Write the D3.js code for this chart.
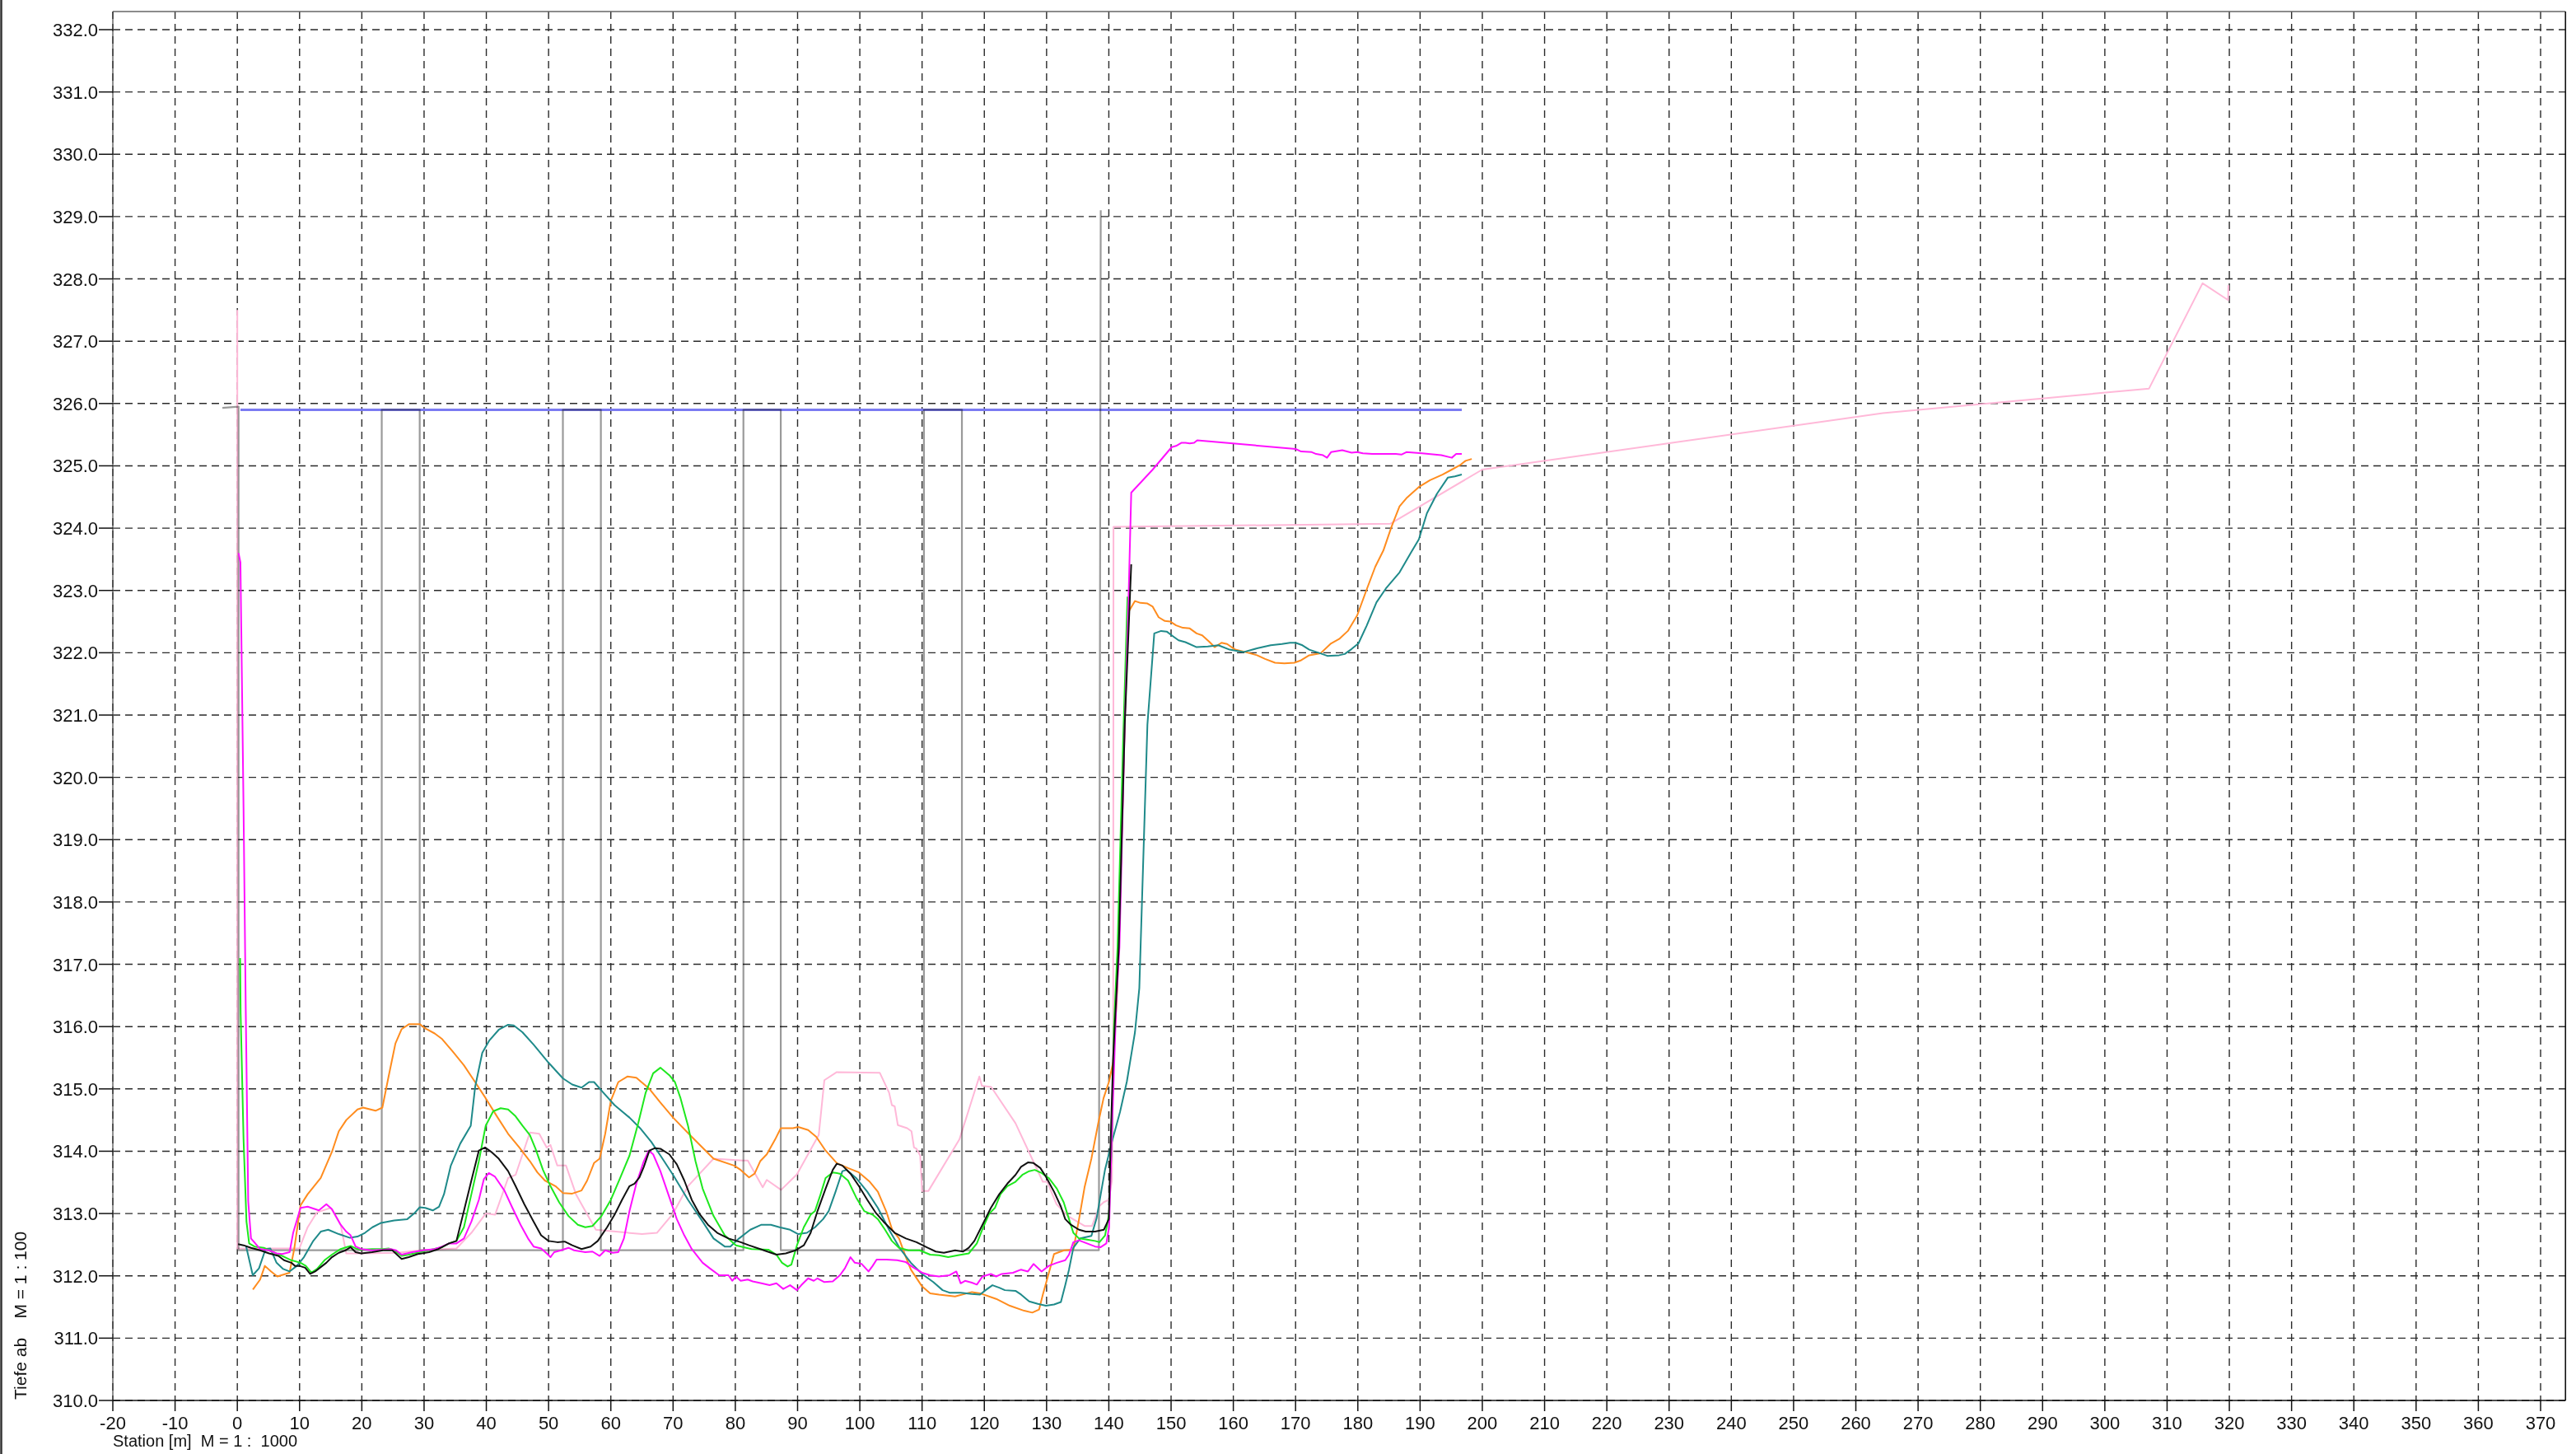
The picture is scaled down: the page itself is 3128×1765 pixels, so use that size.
<!DOCTYPE html>
<html>
<head>
<meta charset="utf-8">
<script src="https://cdn.jsdelivr.net/npm/d3@7"></script>
<style>
  html, body { margin: 0; padding: 0; background: #fff; }
  svg { display: block; font-family: "Liberation Sans", Arial, Helvetica, sans-serif; }
  text { white-space: pre; }
</style>
</head>
<body>
<svg id="chart" width="3128" height="1765"></svg>
<script>
// ---------- data ----------
const xTicks = d3.range(-20, 371, 10);
const yTicks = d3.range(310, 332.5, 1);
const xLabel = "Station [m]  M = 1 :  1000";
const yLabel = "Tiefe ab    M = 1 : 100";

const structure = [[-2.4,325.93],[0.2,325.95],[0.2,312.41],[23.2,312.41],[23.2,325.9],[29.3,325.9],[29.3,312.41],[52.3,312.41],[52.3,325.9],[58.4,325.9],[58.4,312.41],[81.3,312.41],[81.3,325.9],[87.3,325.9],[87.3,312.41],[110.3,312.41],[110.3,325.9],[116.4,325.9],[116.4,312.41],[138.4,312.41],[138.7,329.1]];

const waterLevel = [[0.5,325.9],[196.7,325.9]];

const pink = [[0,327.5],[0,312.44],[9.97,312.44],[11.3,312.78],[12.8,313.02],[15.0,313.09],[16.6,312.82],[17.5,312.36],[19.9,312.36],[25.8,312.37],[29.3,312.41],[35.2,312.44],[37.6,312.69],[39.9,313.0],[41.4,312.98],[43.5,313.57],[44.7,313.62],[47.0,314.30],[48.5,314.28],[49.7,314.06],[50.3,314.10],[51.4,313.77],[52.8,313.77],[54.4,313.31],[55.9,313.04],[57.6,312.74],[65.0,312.67],[67.4,312.69],[70.0,313.0],[72.4,313.44],[76.5,313.88],[81.2,313.85],[82.0,313.85],[84.4,313.42],[85.05,313.54],[87.35,313.38],[89.9,313.63],[93.4,314.26],[94.3,315.14],[96.3,315.27],[103.2,315.26],[104.7,314.94],[105.15,314.74],[105.6,314.72],[106.1,314.42],[107.6,314.37],[108.3,314.32],[108.7,314.06],[109.1,314.04],[109.7,313.93],[110.0,313.36],[111.0,313.36],[116.0,314.19],[119.2,315.20],[119.6,315.05],[121.1,315.03],[125.0,314.45],[129.4,313.51],[130.1,313.51],[131.6,313.15],[133.4,312.96],[136.1,312.80],[137.3,312.80],[138.5,313.12],[139.15,313.18],[140.0,313.22],[140.5,313.53],[140.7,315.43],[140.75,324.02],[185.2,324.07],[200.0,324.94],[264.7,325.85],[307.1,326.24],[315.7,327.93],[319.8,327.66],[319.85,327.9]];

const orange = [[2.5,311.78],[3.66,311.94],[4.42,312.16],[5.43,312.07],[6.43,311.99],[8.38,312.05],[9.14,312.43],[10.15,313.13],[11.3,313.31],[13.4,313.57],[15.2,313.99],[16.3,314.32],[17.5,314.50],[19.3,314.67],[20.2,314.70],[22.2,314.65],[23.3,314.70],[24.3,315.20],[25.4,315.73],[26.4,315.96],[27.6,316.04],[29.3,316.04],[30.2,315.97],[31.7,315.89],[32.9,315.80],[34.6,315.60],[36.4,315.38],[38.2,315.11],[39.9,314.85],[41.7,314.56],[43.5,314.28],[45.3,314.06],[47.0,313.84],[48.2,313.66],[49.4,313.53],[51.1,313.44],[52.3,313.33],[53.8,313.32],[55.3,313.37],[56.2,313.53],[57.3,313.81],[58.2,313.88],[59.1,314.28],[60.0,314.81],[61.2,315.11],[62.7,315.20],[64.1,315.18],[66.2,315.00],[67.96,314.78],[70.0,314.54],[73.0,314.23],[76.5,313.88],[79.8,313.77],[80.86,313.70],[82.2,313.58],[83.1,313.64],[84.0,313.84],[85.05,313.95],[86.4,314.19],[87.3,314.37],[89.25,314.37],[90.1,314.39],[91.7,314.34],[93.0,314.23],[94.5,314.01],[96.3,313.81],[98.1,313.73],[99.85,313.66],[101.6,313.51],[102.9,313.35],[104.3,313.02],[105.2,312.74],[106.3,312.60],[107.4,312.30],[108.2,312.10],[110.0,311.83],[111.3,311.72],[112.7,311.70],[115.3,311.67],[118.0,311.74],[119.3,311.72],[121.9,311.63],[124.1,311.52],[126.4,311.44],[127.7,311.41],[128.8,311.46],[129.4,311.70],[130.1,311.95],[131.2,312.35],[132.8,312.41],[134.3,312.42],[135.2,312.9],[136.1,313.42],[137.2,313.88],[138.3,314.45],[139.15,314.85],[140.04,315.12],[140.7,315.43],[141.35,316.6],[142.2,319.5],[142.7,321.5],[143.0,322.63],[144.2,322.83],[145.07,322.80],[146.2,322.79],[147.05,322.74],[148.0,322.57],[149.0,322.51],[149.9,322.50],[150.8,322.44],[151.9,322.40],[153.0,322.39],[154.1,322.31],[155.0,322.28],[156.1,322.18],[157.0,322.09],[158.1,322.16],[159.0,322.14],[160.3,322.05],[162.0,322.01],[163.8,321.96],[165.1,321.90],[166.7,321.84],[168.2,321.83],[169.8,321.84],[170.9,321.88],[172.2,321.96],[174.0,321.99],[175.7,322.15],[177.0,322.22],[178.4,322.35],[179.9,322.60],[181.4,323.01],[182.8,323.38],[184.1,323.64],[185.4,324.02],[186.7,324.35],[187.8,324.48],[189.8,324.66],[191.6,324.77],[193.6,324.86],[195.1,324.94],[196.4,325.01],[197.3,325.08],[198.3,325.11]];

const teal = [[1.4,312.48],[2.48,312.01],[3.48,312.12],[4.54,312.43],[5.3,312.44],[6.3,312.21],[7.37,312.11],[8.38,312.07],[9.56,312.16],[10.7,312.30],[12.2,312.56],[13.4,312.71],[14.6,312.74],[16.3,312.67],[18.1,312.61],[19.3,312.63],[20.5,312.69],[21.7,312.78],[23.1,312.85],[25.2,312.89],[27.3,312.91],[28.4,313.0],[29.3,313.10],[30.2,313.09],[31.4,313.05],[32.4,313.11],[33.2,313.31],[34.3,313.77],[35.8,314.12],[37.5,314.41],[38.2,315.03],[39.35,315.58],[40.5,315.78],[42.0,315.95],[43.5,316.03],[44.4,316.02],[45.8,315.91],[47.6,315.71],[50.0,315.42],[52.3,315.17],[53.8,315.07],[55.3,315.02],[56.5,315.11],[57.3,315.11],[58.8,314.94],[60.6,314.74],[63.0,314.54],[64.7,314.37],[66.5,314.15],[68.3,313.88],[70.0,313.62],[72.4,313.22],[74.75,312.87],[76.5,312.60],[78.3,312.47],[79.2,312.47],[80.6,312.60],[82.4,312.74],[84.2,312.82],[85.7,312.82],[87.1,312.78],[88.8,312.74],[90.1,312.67],[91.5,312.69],[92.8,312.78],[94.1,312.91],[95.0,313.04],[96.1,313.35],[97.2,313.68],[97.9,313.70],[99.4,313.57],[101.2,313.35],[102.9,313.09],[104.7,312.74],[106.5,312.43],[108.2,312.21],[110.0,312.03],[111.8,311.90],[113.3,311.77],[114.4,311.73],[116.2,311.73],[118.0,311.71],[119.3,311.70],[120.2,311.77],[121.3,311.85],[122.4,311.81],[123.3,311.77],[125.0,311.76],[125.9,311.70],[127.2,311.59],[128.6,311.55],[129.9,311.52],[131.2,311.54],[132.3,311.58],[133.0,311.85],[133.6,312.1],[134.3,312.45],[135.4,312.60],[137.2,312.64],[138.05,312.93],[138.7,313.31],[139.4,313.71],[140.5,314.15],[141.8,314.63],[142.9,315.12],[144.2,315.91],[144.9,316.62],[146.2,320.85],[147.3,322.31],[148.4,322.35],[149.3,322.34],[150.1,322.28],[151.2,322.20],[152.3,322.17],[154.1,322.09],[155.9,322.10],[157.6,322.12],[159.4,322.05],[161.6,322.01],[163.8,322.07],[166.0,322.12],[167.8,322.14],[169.1,322.16],[170.0,322.16],[171.1,322.12],[172.2,322.05],[174.0,321.99],[175.1,321.95],[177.0,321.96],[177.9,321.98],[179.0,322.06],[180.1,322.15],[181.4,322.43],[183.0,322.81],[184.5,323.03],[186.7,323.29],[188.5,323.60],[189.8,323.82],[191.1,324.24],[192.7,324.55],[194.45,324.81],[195.6,324.83],[196.7,324.86]];

const green = [[0.45,317.1],[0.53,316.22],[1.0,314.19],[1.47,312.87],[1.9,312.52],[2.77,312.47],[4.25,312.45],[5.7,312.38],[7.2,312.32],[8.67,312.25],[10.15,312.21],[11.0,312.16],[11.9,312.05],[12.8,312.11],[14.0,312.25],[15.2,312.34],[16.6,312.43],[17.5,312.46],[18.2,312.48],[19.0,312.44],[19.9,312.42],[21.65,312.43],[23.4,312.43],[24.3,312.44],[25.2,312.41],[26.4,312.32],[27.55,312.34],[29.3,312.38],[31.1,312.42],[32.9,312.46],[34.0,312.52],[35.2,312.56],[36.4,312.78],[37.6,313.31],[38.8,313.84],[39.9,314.41],[41.1,314.64],[42.3,314.69],[43.5,314.67],[44.7,314.56],[45.8,314.41],[47.0,314.26],[47.9,314.04],[49.1,313.70],[50.3,313.44],[51.7,313.18],[53.2,312.96],[54.7,312.82],[55.9,312.78],[57.05,312.80],[58.5,312.96],[60.0,313.22],[61.5,313.57],[63.0,313.93],[64.4,314.45],[65.6,314.94],[66.8,315.25],[67.96,315.34],[69.4,315.22],[70.3,315.11],[71.2,314.85],[72.4,314.41],[73.6,313.84],[74.75,313.40],[76.5,312.96],[78.3,312.65],[80.1,312.49],[82.6,312.43],[85.3,312.42],[86.6,312.34],[87.5,312.21],[88.4,312.15],[89.0,312.18],[89.9,312.49],[91.0,312.78],[92.1,312.98],[92.8,313.04],[93.7,313.31],[94.5,313.57],[95.65,313.66],[96.8,313.64],[98.1,313.53],[99.4,313.26],[100.7,313.04],[102.06,312.98],[102.9,312.91],[104.05,312.74],[105.15,312.56],[106.3,312.45],[107.8,312.41],[109.6,312.41],[111.3,312.34],[112.7,312.33],[114.2,312.30],[115.75,312.33],[117.5,312.36],[118.8,312.52],[119.9,312.80],[120.8,313.0],[121.7,313.09],[122.6,313.31],[123.7,313.44],[125.0,313.51],[126.1,313.62],[127.2,313.68],[128.1,313.70],[129.2,313.65],[130.35,313.57],[131.65,313.40],[132.75,313.18],[133.6,312.91],[134.3,312.69],[135.2,312.60],[136.5,312.58],[137.8,312.56],[138.5,312.54],[139.4,312.65],[140.04,313.0],[140.5,314.19],[140.8,315.95],[141.4,317.27],[142.3,320.6],[143.0,322.9]];

const magenta = [[0.2,323.6],[0.5,323.45],[1.0,319.5],[1.35,316.3],[1.75,313.2],[2.2,312.6],[3.66,312.43],[5.1,312.41],[6.3,312.36],[7.2,312.35],[8.4,312.38],[8.97,312.69],[10.15,313.09],[11.3,313.11],[13.1,313.05],[14.3,313.15],[15.2,313.07],[16.6,312.82],[17.5,312.71],[18.2,312.65],[19.0,312.47],[19.9,312.43],[21.65,312.41],[23.4,312.42],[24.6,312.43],[25.5,312.41],[26.4,312.34],[28.1,312.38],[29.9,312.41],[31.7,312.43],[32.9,312.47],[34.0,312.52],[35.2,312.52],[36.4,312.60],[37.6,312.87],[38.8,313.22],[39.6,313.55],[40.4,313.65],[41.4,313.59],[42.9,313.37],[44.1,313.11],[45.5,312.82],[46.7,312.60],[47.6,312.47],[48.8,312.44],[49.7,312.36],[50.3,312.30],[50.9,312.38],[52.0,312.41],[53.2,312.45],[54.1,312.41],[55.9,312.38],[57.05,312.39],[58.2,312.32],[59.1,312.41],[60.3,312.37],[61.2,312.38],[62.1,312.60],[63.0,313.04],[64.1,313.48],[65.3,313.84],[66.1,314.01],[66.8,313.95],[67.96,313.68],[69.4,313.26],[70.6,312.91],[71.8,312.65],[73.0,312.43],[74.75,312.21],[75.9,312.12],[77.4,312.01],[78.9,312.01],[79.5,311.92],[80.1,311.99],[80.86,311.92],[82.0,311.94],[82.8,311.91],[84.2,311.88],[85.5,311.85],[86.6,311.88],[87.7,311.79],[88.8,311.85],[89.9,311.77],[90.6,311.85],[91.7,311.96],[92.6,311.92],[93.2,311.96],[94.3,311.90],[95.65,311.91],[96.8,312.01],[97.6,312.12],[98.5,312.30],[99.2,312.21],[100.3,312.19],[101.4,312.07],[102.06,312.16],[102.7,312.26],[104.3,312.26],[106.0,312.25],[107.4,312.22],[108.5,312.14],[110.0,312.05],[111.3,312.01],[112.7,311.99],[114.4,312.01],[115.5,312.07],[116.2,311.88],[116.9,311.92],[118.0,311.89],[118.8,311.86],[119.7,311.99],[121.05,312.03],[121.9,311.99],[122.8,312.03],[124.6,312.05],[125.9,312.10],[127.0,312.07],[127.9,312.19],[129.2,312.07],[130.35,312.16],[131.65,312.21],[133.0,312.25],[133.6,312.34],[134.3,312.54],[135.2,312.57],[136.5,312.52],[137.8,312.47],[138.7,312.46],[139.6,312.52],[140.04,312.78],[140.6,314.63],[141.2,316.39],[141.7,317.27],[142.56,320.85],[143.1,322.61],[143.6,324.57],[147.05,324.94],[150.1,325.30],[150.8,325.32],[151.7,325.37],[152.3,325.37],[153.0,325.36],[153.7,325.37],[154.2,325.41],[170.0,325.27],[170.9,325.23],[172.6,325.22],[173.3,325.19],[174.4,325.17],[175.05,325.13],[175.7,325.22],[177.5,325.25],[179.0,325.21],[179.9,325.22],[180.8,325.20],[182.3,325.19],[186.1,325.19],[187.0,325.18],[187.8,325.22],[190.3,325.20],[193.4,325.17],[195.1,325.13],[195.8,325.19],[196.7,325.19]];

const black = [[0.12,312.51],[1.0,312.49],[2.2,312.45],[3.66,312.41],[5.1,312.36],[6.6,312.32],[7.5,312.25],[8.67,312.21],[9.26,312.16],[9.97,312.16],[10.9,312.13],[11.7,312.03],[12.5,312.07],[13.4,312.14],[14.3,312.21],[15.2,312.30],[16.3,312.37],[17.4,312.41],[18.2,312.46],[19.0,312.38],[19.9,312.36],[21.65,312.38],[23.4,312.41],[24.9,312.41],[26.4,312.27],[27.55,312.30],[29.0,312.35],[30.8,312.38],[32.3,312.43],[34.0,312.52],[35.2,312.56],[36.4,313.04],[37.6,313.53],[38.8,314.01],[39.8,314.06],[40.8,313.99],[42.0,313.88],[43.5,313.68],[44.7,313.44],[46.1,313.15],[47.6,312.87],[48.8,312.65],[50.0,312.56],[51.4,312.54],[52.6,312.55],[53.8,312.49],[55.3,312.43],[56.75,312.47],[57.9,312.56],[59.4,312.78],[60.6,312.98],[61.8,313.22],[63.0,313.44],[63.8,313.48],[64.6,313.58],[65.3,313.75],[66.2,314.01],[67.1,314.05],[67.96,314.04],[69.4,313.95],[70.6,313.79],[71.8,313.53],[73.0,313.22],[74.2,313.0],[75.6,312.82],[77.1,312.69],[78.9,312.60],[80.86,312.54],[82.2,312.49],[84.0,312.43],[86.6,312.34],[88.1,312.36],[89.7,312.41],[91.0,312.49],[92.1,312.69],[93.2,313.04],[94.5,313.40],[95.65,313.70],[96.3,313.80],[97.2,313.77],[98.5,313.64],[99.85,313.44],[101.2,313.22],[102.5,313.02],[103.8,312.87],[105.6,312.69],[107.4,312.60],[109.1,312.54],[110.9,312.45],[112.2,312.39],[113.5,312.37],[115.3,312.41],[116.6,312.39],[117.5,312.45],[118.4,312.56],[119.7,312.82],[121.05,313.09],[122.4,313.31],[123.7,313.48],[125.0,313.62],[125.9,313.75],[127.0,313.82],[127.9,313.81],[129.0,313.73],[129.9,313.59],[131.2,313.35],[132.3,313.11],[133.0,312.91],[133.9,312.82],[135.2,312.74],[136.3,312.71],[137.8,312.71],[139.2,312.74],[140.0,312.91],[140.3,314.19],[140.7,315.51],[141.6,317.27],[142.56,320.85],[143.6,323.42]];

// ---------- drawing ----------
(function () {
const svg = d3.select("#chart");
const x = d3.scaleLinear().domain([-20, 370]).range([137, 3085]);
const y = d3.scaleLinear().domain([310, 332]).range([1700, 36]);
const pL = x(-20), pR = x(374), pT = 14, pB = y(310);

// outer left edge line
svg.append("line").attr("x1", 1.5).attr("x2", 1.5).attr("y1", 0).attr("y2", 1765)
  .attr("stroke", "#333").attr("stroke-width", 2.5);

const grid = svg.append("g");
grid.selectAll("line.h").data(yTicks).join("line")
  .attr("x1", pL).attr("x2", pR)
  .attr("y1", d => y(d)).attr("y2", d => y(d))
  .attr("stroke", "#2a2a2a").attr("stroke-width", 1.4).attr("stroke-dasharray", "9,6");
grid.selectAll("line.v").data(xTicks).join("line")
  .attr("x1", d => x(d)).attr("x2", d => x(d))
  .attr("y1", pT).attr("y2", pB)
  .attr("stroke", "#2a2a2a").attr("stroke-width", 1.4).attr("stroke-dasharray", "9,6");

// frame
svg.append("line").attr("x1", pL).attr("x2", pR).attr("y1", pT).attr("y2", pT)
  .attr("stroke", "#666").attr("stroke-width", 1.6);
svg.append("line").attr("x1", pR).attr("x2", pR).attr("y1", pT).attr("y2", pB)
  .attr("stroke", "#111").attr("stroke-width", 1.6);
svg.append("line").attr("x1", pL).attr("x2", pL).attr("y1", pT).attr("y2", pB)
  .attr("stroke", "#444").attr("stroke-width", 1.2);
svg.append("line").attr("x1", pL).attr("x2", pR).attr("y1", pB).attr("y2", pB)
  .attr("stroke", "#111").attr("stroke-width", 1.6);

// ticks
svg.append("g").selectAll("line").data(yTicks).join("line")
  .attr("x1", 120).attr("x2", pL).attr("y1", d => y(d)).attr("y2", d => y(d))
  .attr("stroke", "#111").attr("stroke-width", 1.5);
svg.append("g").selectAll("line").data(xTicks).join("line")
  .attr("x1", d => x(d)).attr("x2", d => x(d)).attr("y1", pB).attr("y2", pB + 13)
  .attr("stroke", "#111").attr("stroke-width", 1.5);

// tick labels
svg.append("g").selectAll("text").data(yTicks).join("text")
  .attr("x", 119).attr("y", d => y(d) + 8)
  .attr("text-anchor", "end").attr("font-size", 22).attr("fill", "#111")
  .text(d => d3.format(".1f")(d));
svg.append("g").selectAll("text").data(xTicks).join("text")
  .attr("x", d => x(d)).attr("y", 1735)
  .attr("text-anchor", "middle").attr("font-size", 22).attr("fill", "#111")
  .text(d => d);

svg.append("text").attr("x", 137).attr("y", 1756).attr("font-size", 20).attr("fill", "#111")
  .text(xLabel);
svg.append("text").attr("transform", "translate(32,1699) rotate(-90)")
  .attr("font-size", 21).attr("fill", "#111").text(yLabel);

// series
const line = d3.line().x(d => x(d[0])).y(d => y(d[1]));
const plot = svg.append("g");
function draw(data, color, width, extra) {
  const p = plot.append("path").datum(data).attr("d", line)
    .attr("fill", "none").attr("stroke", color).attr("stroke-width", width)
    .attr("stroke-linejoin", "round");
  if (extra) extra(p);
  return p;
}
draw(pink, "#ffb8d8", 2);
draw(waterLevel, "#7b7bf2", 3);
draw(structure, "#9a9a9a", 2.2, p => p.style("mix-blend-mode", "multiply"));
draw(orange, "#ff8c1e", 2);
draw(teal, "#1f8a8a", 2);
draw(green, "#1ee81e", 2);
draw(magenta, "#ff10ff", 2);
draw(black, "#111", 2);
})();
</script>
</body>
</html>
